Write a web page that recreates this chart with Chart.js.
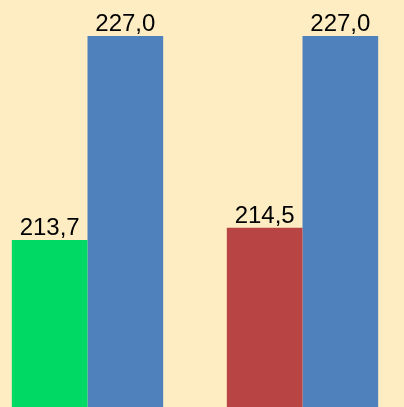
<!DOCTYPE html>
<html>
<head>
<meta charset="utf-8">
<script src="https://cdn.jsdelivr.net/npm/chart.js@4"></script>
<style>
  html, body { margin: 0; padding: 0; background: #FEEDC3; overflow: hidden; }
  #wrap { position: absolute; left: -20px; top: 0; width: 430px; height: 407px; }
</style>
</head>
<body>
<div id="wrap"><canvas id="barChart"></canvas></div>
<script>
var categories = ["A", "B"];
var actualValues = [213.7, 214.5];
var targetValues = [227.0, 227.0];
var actualColors = ["#00D964", "#B94444"];
var targetColor = "#4F81BD";

// draw value labels above each bar, comma as decimal separator
var valueLabels = {
  id: "valueLabels",
  afterDatasetsDraw: function (chart) {
    var ctx = chart.ctx;
    ctx.save();
    ctx.font = "24px 'Liberation Sans', Arial, sans-serif";
    ctx.fillStyle = "#000000";
    ctx.textAlign = "center";
    ctx.textBaseline = "alphabetic";
    chart.data.datasets.forEach(function (ds, i) {
      chart.getDatasetMeta(i).data.forEach(function (bar, j) {
        var text = ds.data[j].toFixed(1).replace(".", ",");
        ctx.fillText(text, bar.x, bar.y - 5);
      });
    });
    ctx.restore();
  },
};

var ctx = document.getElementById("barChart");
var myChart = new Chart(ctx, {
  type: "bar",
  data: {
    labels: categories,
    datasets: [
      {
        data: actualValues,
        backgroundColor: actualColors,
      },
      {
        data: targetValues,
        backgroundColor: targetColor,
      },
    ],
  },
  options: {
    responsive: true,
    maintainAspectRatio: false,
    animation: false,
    layout: { padding: 0 },
    datasets: {
      bar: { categoryPercentage: 0.704, barPercentage: 1.0 },
    },
    plugins: {
      legend: { display: false },
      tooltip: { enabled: false },
    },
    scales: {
      x: { display: false },
      y: { display: false, min: 202.8, max: 229.35 },
    },
  },
  plugins: [valueLabels],
});
</script>
</body>
</html>
